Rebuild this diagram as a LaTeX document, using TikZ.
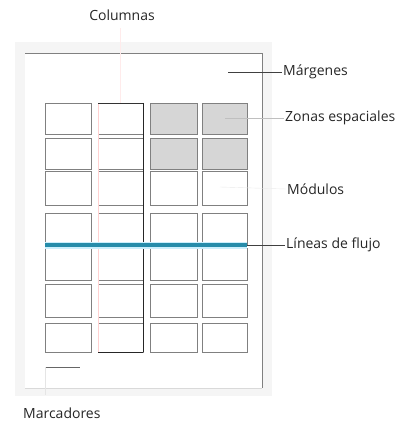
\documentclass[tikz,border=0pt]{standalone}
\usepackage{fontspec}
\setmainfont{Open Sans}
\begin{document}
\begin{tikzpicture}[x=1pt,y=-1pt,
  lbl/.style={font=\fontsize{14}{16}\selectfont, text=black!85, inner sep=1pt},
  cell/.style={draw=black!50, line width=0.7pt},
  lead/.style={draw=black!75, line width=0.7pt},
  faint/.style={draw=black!25, line width=0.6pt}]
\useasboundingbox (0,0) rectangle (403,427);
% page shadow and page
\fill[black!4] (15,42) rectangle (272,396);
\fill[white] (25,53) rectangle (262,388);
\draw[black!50, line width=0.9pt] (25,53) -- (262,53) -- (262,388);
\draw[black!15, line width=0.8pt] (25,388) -- (262,388);
% shaded zones
\fill[black!16] (150,103) rectangle (197,134);
\fill[black!16] (202,103) rectangle (247,134);
\fill[black!16] (150,138) rectangle (197,169);
\fill[black!16] (202,138) rectangle (247,169);
% grid cells
\foreach \xa/\xb in {45/91,98/143,150/197,202/247}{
  \foreach \ya/\yb in {103/134,138/169,171/205,213/245,248/280,284/317,323/352}{
    \draw[cell] (\xa,\ya) rectangle (\xb,\yb);
  }
}
% column 2 emphasis
\draw[red!18, line width=0.6pt] (98,103) -- (98,352);
\draw[red!8, line width=0.6pt] (120,28) -- (120,103);
\draw[black!85, line width=0.9pt] (143,103) -- (143,352);
\draw[black!85, line width=0.9pt] (98,352) -- (143,352);
\draw[black!80, line width=0.8pt] (98,103) -- (143,103);
% flow line
\draw[cyan!20, line width=7pt] (45,245) -- (247,245);
\draw[color={rgb,255:red,38;green,140;blue,170}, line width=3.6pt] (45,245) -- (247,245);
% labels
\node[lbl] (col) at (122,15) {Columnas};
\node[lbl, anchor=west] (mar) at (282,72) {Márgenes};
\node[lbl, anchor=west] (zon) at (284,118) {Zonas espaciales};
\node[lbl, anchor=west] (mod) at (286,189) {Módulos};
\node[lbl, anchor=west] (lin) at (285,245) {Líneas de flujo};
\node[lbl, anchor=west] (mrc) at (22,413) {Marcadores};
% leaders
\coordinate (pm) at (228,72);
\coordinate (pz) at (225,118);
\coordinate (pd) at (220,187);
\coordinate (pl) at (247,245);
\coordinate (pk1) at (45,367);
\coordinate (pk2) at (80,367);
\coordinate (pk3) at (45,395);
\draw[lead] (pm) -- (mar.west);
\draw[faint] (pz) -- (zon.west);
\draw[draw=black!8] (pd) -- (mod.west);
\draw[lead] (pl) -- (lin.west);
\draw[draw=black!60, line width=0.7pt] (pk1) -- (pk2);
\draw[draw=black!10, line width=0.6pt] (pk1) -- (pk3);
\end{tikzpicture}
\end{document}
